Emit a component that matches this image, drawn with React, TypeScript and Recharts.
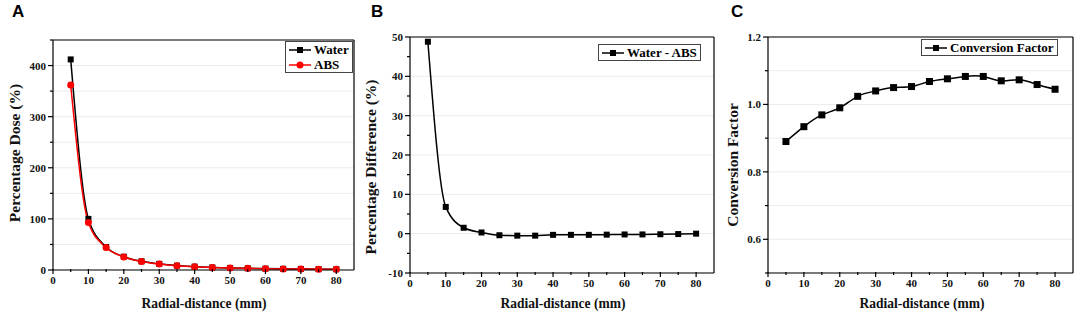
import React from 'react';
import {
  CartesianGrid,
  Line,
  LineChart,
  ReferenceLine,
  XAxis,
  YAxis,
} from 'recharts';

// radial distance (mm) sampled every 5 mm
const distance = [5, 10, 15, 20, 25, 30, 35, 40, 45, 50, 55, 60, 65, 70, 75, 80];

// panel A
const waterDose = [412, 100, 45, 26, 17, 12, 8.6, 6.6, 5, 4, 3.3, 2.7, 2.3, 2, 1.7, 1.5];
const absDose = [362, 93, 44, 25.5, 16.8, 11.7, 8.4, 6.5, 4.9, 3.9, 3.2, 2.6, 2.2, 1.9, 1.6, 1.4];

// panel B
const percentDiff = [48.8, 6.8, 1.5, 0.3, -0.4, -0.5, -0.5, -0.3, -0.3, -0.3, -0.25, -0.2, -0.2, -0.15, -0.1, 0];

// panel C
const conversionFactor = [
  0.89, 0.934, 0.969, 0.99, 1.024, 1.04, 1.05, 1.053, 1.068, 1.076, 1.083, 1.083, 1.07, 1.073, 1.059,
  1.045,
];

const xTicks = [0, 5, 10, 15, 20, 25, 30, 35, 40, 45, 50, 55, 60, 65, 70, 75, 80];
const doseTicks = [0, 50, 100, 150, 200, 250, 300, 350, 400, 450];
const diffTicks = [-10, -5, 0, 5, 10, 15, 20, 25, 30, 35, 40, 45, 50];
const cfTicks = [0.5, 0.6, 0.7, 0.8, 0.9, 1.0, 1.1, 1.2];

const SERIF = '"Liberation Serif", "Times New Roman", serif';
const SANS = '"Liberation Sans", Arial, sans-serif';
const GRID = '#ebebeb';

const doseData = distance.map((x, i) => ({ x, water: waterDose[i], abs: absDose[i] }));
const diffData = distance.map((x, i) => ({ x, diff: percentDiff[i] }));
const cfData = distance.map((x, i) => ({ x, cf: conversionFactor[i] }));

const XTick = (props: any) => {
  const { x, y, payload } = props;
  const major = payload.value % 10 === 0;
  return (
    <g>
      <line x1={x} x2={x} y1={y - 1} y2={y + (major ? 4 : 2)} stroke="#000" strokeWidth={1.2} />
      {major && (
        <text x={x} y={y + 14} textAnchor="middle" fontFamily={SERIF} fontWeight={700} fontSize={11} fill="#111">
          {payload.value}
        </text>
      )}
    </g>
  );
};

const makeYTick = (isMajor: (v: number) => boolean, fmt: (v: number) => string) => (props: any) => {
  const { x, y, payload } = props;
  const major = isMajor(payload.value);
  return (
    <g>
      <line x1={x} x2={x - (major ? 5 : 3)} y1={y} y2={y} stroke="#000" strokeWidth={1.2} />
      {major && (
        <text x={x - 7} y={y + 4} textAnchor="end" fontFamily={SERIF} fontWeight={700} fontSize={11} fill="#111">
          {fmt(payload.value)}
        </text>
      )}
    </g>
  );
};

const DoseTick = makeYTick((v) => v % 100 === 0, (v) => String(v));
const DiffTick = makeYTick((v) => v % 10 === 0, (v) => String(v));
const CfTick = makeYTick((v) => Math.round(v * 10) % 2 === 0, (v) => v.toFixed(1));

const Square = (color: string, size = 6) => (props: any) => {
  const { cx, cy, index } = props;
  return <rect key={index} x={cx - size / 2} y={cy - size / 2} width={size} height={size} fill={color} />;
};

const Circle = (color: string, r = 3.5) => (props: any) => {
  const { cx, cy, index } = props;
  return <circle key={index} cx={cx} cy={cy} r={r} fill={color} />;
};

type Entry = { label: string; color: string; shape: 'square' | 'circle' };

function LegendBox({ left, top, entries, fontSize = 13 }: { left: number; top: number; entries: Entry[]; fontSize?: number }) {
  return (
    <div
      style={{
        position: 'absolute',
        left,
        top,
        border: '1px solid #444',
        background: '#fff',
        padding: '0 3px 0 2px',
        fontFamily: SERIF,
        fontWeight: 700,
        fontSize,
        lineHeight: '15px',
      }}
    >
      {entries.map((e) => (
        <div key={e.label} style={{ display: 'flex', alignItems: 'center', whiteSpace: 'nowrap' }}>
          <svg width={24} height={12} style={{ marginRight: 2 }}>
            <line x1={1} x2={23} y1={6} y2={6} stroke={e.color} strokeWidth={1.5} />
            {e.shape === 'square' ? (
              <rect x={9} y={3} width={6} height={6} fill={e.color} />
            ) : (
              <circle cx={12} cy={6} r={3.5} fill={e.color} />
            )}
          </svg>
          <span>{e.label}</span>
        </div>
      ))}
    </div>
  );
}

const yTitle = (text: string, cx: number, cy: number) => (
  <div
    style={{
      position: 'absolute',
      left: cx,
      top: cy,
      transform: 'translate(-50%, -50%) rotate(-90deg)',
      whiteSpace: 'nowrap',
      fontFamily: SERIF,
      fontWeight: 700,
      fontSize: 15.5,
      color: '#111',
    }}
  >
    {text}
  </div>
);

const xTitle = (cx: number) => (
  <div
    style={{
      position: 'absolute',
      left: cx,
      top: 303,
      transform: 'translate(-50%, -50%) scaleX(0.9)',
      whiteSpace: 'nowrap',
      fontFamily: SERIF,
      fontWeight: 700,
      fontSize: 15,
      color: '#111',
    }}
  >
    Radial-distance (mm)
  </div>
);

const panelLetter = (text: string, left: number) => (
  <div
    style={{
      position: 'absolute',
      left,
      top: 2,
      fontFamily: SANS,
      fontWeight: 700,
      fontSize: 17,
      color: '#000',
      lineHeight: '20px',
    }}
  >
    {text}
  </div>
);

const axisLine = { stroke: '#000', strokeWidth: 1.2 };
const frame = { stroke: '#000', strokeWidth: 1.2 };

export default function App() {
  return (
    <div style={{ position: 'absolute', left: 0, top: 0, width: 1084, height: 319, background: '#fff', overflow: 'hidden' }}>
      {/* A */}
      <div style={{ position: 'absolute', left: 0, top: 0 }}>
        <LineChart width={360} height={319} data={doseData} margin={{ top: 39, left: 52, right: 6, bottom: 48 }}>
          <CartesianGrid vertical={false} horizontalValues={doseTicks} stroke={GRID} />
          <XAxis
            type="number"
            dataKey="x"
            domain={[0, 85]}
            ticks={xTicks}
            interval={0}
            height={1}
            tickSize={0}
            tickMargin={0}
            tick={XTick}
            axisLine={axisLine}
          />
          <XAxis xAxisId="top" orientation="top" type="number" dataKey="x" domain={[0, 85]} height={1} tick={false} tickLine={false} axisLine={frame} />
          <YAxis
            type="number"
            domain={[0, 450]}
            ticks={doseTicks}
            interval={0}
            width={1}
            tickSize={0}
            tickMargin={0}
            tick={DoseTick}
            axisLine={axisLine}
          />
          <ReferenceLine x={85} stroke="#000" strokeWidth={1.2} ifOverflow="extendDomain" />
          <Line type="monotone" dataKey="water" stroke="#000" strokeWidth={1.5} dot={Square('#000')} isAnimationActive={false} />
          <Line type="monotone" dataKey="abs" stroke="#f00" strokeWidth={1.5} dot={Circle('#f00')} isAnimationActive={false} />
        </LineChart>
      </div>

      {/* B */}
      <div style={{ position: 'absolute', left: 360, top: 0 }}>
        <LineChart width={360} height={319} data={diffData} margin={{ top: 36, left: 49, right: 6, bottom: 45 }}>
          <CartesianGrid vertical={false} horizontalValues={[-10, 0, 10, 20, 30, 40, 50]} stroke={GRID} />
          <XAxis
            type="number"
            dataKey="x"
            domain={[0, 85]}
            ticks={xTicks}
            interval={0}
            height={1}
            tickSize={0}
            tickMargin={0}
            tick={XTick}
            axisLine={axisLine}
          />
          <XAxis xAxisId="top" orientation="top" type="number" dataKey="x" domain={[0, 85]} height={1} tick={false} tickLine={false} axisLine={frame} />
          <YAxis
            type="number"
            domain={[-10, 50]}
            ticks={diffTicks}
            interval={0}
            width={1}
            tickSize={0}
            tickMargin={0}
            tick={DiffTick}
            axisLine={axisLine}
          />
          <ReferenceLine x={85} stroke="#000" strokeWidth={1.2} ifOverflow="extendDomain" />
          <Line type="monotone" dataKey="diff" stroke="#000" strokeWidth={1.5} dot={Square('#000')} isAnimationActive={false} />
        </LineChart>
      </div>

      {/* C */}
      <div style={{ position: 'absolute', left: 720, top: 0 }}>
        <LineChart width={364} height={319} data={cfData} margin={{ top: 36, left: 47, right: 11, bottom: 45 }}>
          <CartesianGrid vertical={false} horizontalValues={cfTicks} stroke={GRID} />
          <XAxis
            type="number"
            dataKey="x"
            domain={[0, 85]}
            ticks={xTicks}
            interval={0}
            height={1}
            tickSize={0}
            tickMargin={0}
            tick={XTick}
            axisLine={axisLine}
          />
          <XAxis xAxisId="top" orientation="top" type="number" dataKey="x" domain={[0, 85]} height={1} tick={false} tickLine={false} axisLine={frame} />
          <YAxis
            type="number"
            domain={[0.5, 1.2]}
            ticks={cfTicks}
            interval={0}
            width={1}
            tickSize={0}
            tickMargin={0}
            tick={CfTick}
            axisLine={axisLine}
          />
          <ReferenceLine x={85} stroke="#000" strokeWidth={1.2} ifOverflow="extendDomain" />
          <Line type="natural" dataKey="cf" stroke="#000" strokeWidth={1.5} dot={Square('#000', 7)} isAnimationActive={false} />
        </LineChart>
      </div>

      {panelLetter('A', 12)}
      {panelLetter('B', 371)}
      {panelLetter('C', 731)}

      {yTitle('Percentage Dose (%)', 15, 153)}
      {yTitle('Percentage Difference (%)', 371, 167)}
      {yTitle('Conversion Factor', 733, 165)}

      {xTitle(204)}
      {xTitle(563)}
      {xTitle(922)}

      <LegendBox
        left={285}
        top={41}
        entries={[
          { label: 'Water', color: '#000', shape: 'square' },
          { label: 'ABS', color: '#f00', shape: 'circle' },
        ]}
      />
      <LegendBox left={598} top={44} entries={[{ label: 'Water - ABS', color: '#000', shape: 'square' }]} />
      <LegendBox left={921} top={39} entries={[{ label: 'Conversion Factor', color: '#000', shape: 'square' }]} />
    </div>
  );
}
